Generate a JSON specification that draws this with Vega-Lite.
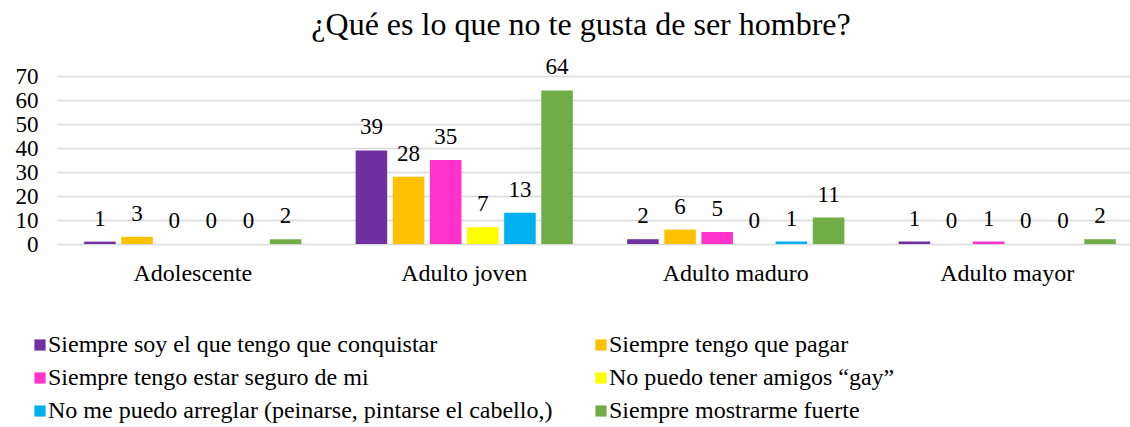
{
  "$schema": "https://vega.github.io/schema/vega-lite/v6.json",
  "autosize": "none",
  "width": 1086,
  "height": 168,
  "padding": {"left": 57, "top": 76, "right": 0, "bottom": 183},
  "background": "white",
  "config": {
    "font": "Liberation Serif",
    "view": {"stroke": null}
  },
  "title": {
    "text": "¿Qué es lo que no te gusta de ser hombre?",
    "font": "Liberation Serif",
    "fontSize": 32,
    "fontWeight": "normal",
    "color": "#000000",
    "anchor": "middle",
    "dx": -19,
    "offset": 14
  },
  "data": {
    "values": [
      {"grupo": "Adolescente", "respuesta": "Siempre soy el que tengo que conquistar", "n": 1},
      {"grupo": "Adolescente", "respuesta": "Siempre tengo que pagar", "n": 3},
      {"grupo": "Adolescente", "respuesta": "Siempre tengo estar seguro de mi", "n": 0},
      {"grupo": "Adolescente", "respuesta": "No puedo tener amigos “gay”", "n": 0},
      {"grupo": "Adolescente", "respuesta": "No me puedo arreglar (peinarse, pintarse el cabello,)", "n": 0},
      {"grupo": "Adolescente", "respuesta": "Siempre mostrarme fuerte", "n": 2},
      {"grupo": "Adulto joven", "respuesta": "Siempre soy el que tengo que conquistar", "n": 39},
      {"grupo": "Adulto joven", "respuesta": "Siempre tengo que pagar", "n": 28},
      {"grupo": "Adulto joven", "respuesta": "Siempre tengo estar seguro de mi", "n": 35},
      {"grupo": "Adulto joven", "respuesta": "No puedo tener amigos “gay”", "n": 7},
      {"grupo": "Adulto joven", "respuesta": "No me puedo arreglar (peinarse, pintarse el cabello,)", "n": 13},
      {"grupo": "Adulto joven", "respuesta": "Siempre mostrarme fuerte", "n": 64},
      {"grupo": "Adulto maduro", "respuesta": "Siempre soy el que tengo que conquistar", "n": 2},
      {"grupo": "Adulto maduro", "respuesta": "Siempre tengo que pagar", "n": 6},
      {"grupo": "Adulto maduro", "respuesta": "Siempre tengo estar seguro de mi", "n": 5},
      {"grupo": "Adulto maduro", "respuesta": "No puedo tener amigos “gay”", "n": 0},
      {"grupo": "Adulto maduro", "respuesta": "No me puedo arreglar (peinarse, pintarse el cabello,)", "n": 1},
      {"grupo": "Adulto maduro", "respuesta": "Siempre mostrarme fuerte", "n": 11},
      {"grupo": "Adulto mayor", "respuesta": "Siempre soy el que tengo que conquistar", "n": 1},
      {"grupo": "Adulto mayor", "respuesta": "Siempre tengo que pagar", "n": 0},
      {"grupo": "Adulto mayor", "respuesta": "Siempre tengo estar seguro de mi", "n": 1},
      {"grupo": "Adulto mayor", "respuesta": "No puedo tener amigos “gay”", "n": 0},
      {"grupo": "Adulto mayor", "respuesta": "No me puedo arreglar (peinarse, pintarse el cabello,)", "n": 0},
      {"grupo": "Adulto mayor", "respuesta": "Siempre mostrarme fuerte", "n": 2}
    ]
  },
  "encoding": {
    "x": {
      "field": "grupo",
      "type": "nominal",
      "sort": null,
      "title": null,
      "scale": {"paddingInner": 0.2, "paddingOuter": 0.1},
      "axis": {
        "labelAngle": 0,
        "labelFont": "Liberation Serif",
        "labelFontSize": 24,
        "labelColor": "#000000",
        "labelPadding": 17,
        "domain": false,
        "ticks": false,
        "grid": false
      }
    },
    "xOffset": {
      "field": "respuesta",
      "type": "nominal",
      "sort": null,
      "scale": {"paddingInner": 0.15, "paddingOuter": 0}
    },
    "y": {
      "field": "n",
      "type": "quantitative",
      "title": null,
      "scale": {"domain": [0, 70], "nice": false},
      "axis": {
        "values": [0, 10, 20, 30, 40, 50, 60, 70],
        "labelFont": "Liberation Serif",
        "labelFontSize": 23,
        "labelColor": "#000000",
        "labelPadding": 19,
        "domain": false,
        "ticks": false,
        "gridColor": "#d9d9d9",
        "gridWidth": 1.5
      }
    }
  },
  "layer": [
    {
      "mark": {"type": "bar"},
      "encoding": {
        "color": {
          "field": "respuesta",
          "type": "nominal",
          "sort": null,
          "title": null,
          "scale": {
            "domain": [
              "Siempre soy el que tengo que conquistar",
              "Siempre tengo que pagar",
              "Siempre tengo estar seguro de mi",
              "No puedo tener amigos “gay”",
              "No me puedo arreglar (peinarse, pintarse el cabello,)",
              "Siempre mostrarme fuerte"
            ],
            "range": ["#7030A0", "#FFC000", "#FF33CC", "#FFFF00", "#00B0F0", "#70AD47"]
          },
          "legend": {
            "orient": "none",
            "legendX": -29,
            "legendY": 257,
            "direction": "horizontal",
            "columns": 2,
            "symbolType": "square",
            "symbolSize": 125,
            "symbolStrokeWidth": 0,
            "labelFont": "Liberation Serif",
            "labelFontSize": 24,
            "labelColor": "#000000",
            "labelOffset": -4,
            "labelLimit": 700,
            "rowPadding": 9,
            "columnPadding": 36
          }
        }
      }
    },
    {
      "mark": {
        "type": "text",
        "baseline": "alphabetic",
        "dy": -16,
        "font": "Liberation Serif",
        "fontSize": 23,
        "color": "#000000"
      },
      "encoding": {
        "text": {"field": "n", "type": "quantitative"}
      }
    }
  ]
}
